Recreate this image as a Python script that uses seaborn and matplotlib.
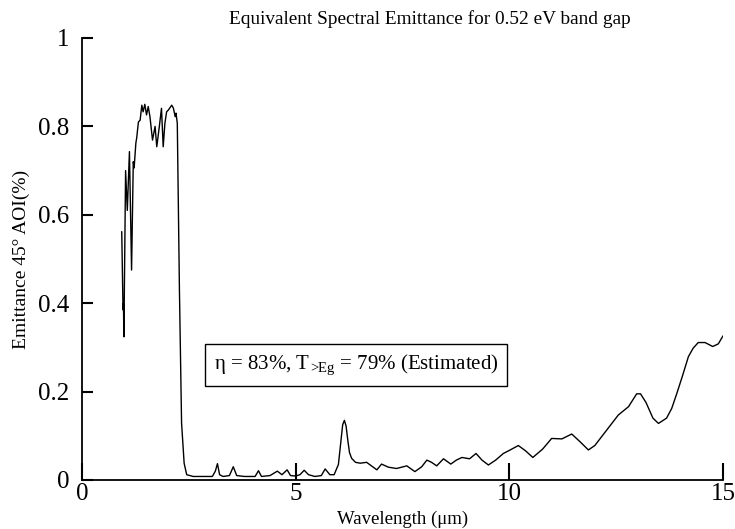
import matplotlib
matplotlib.use("Agg")
import matplotlib.pyplot as plt
import seaborn as sns
import pandas as pd

wavelength = [0.93, 0.95, 0.96, 0.97, 0.98, 1.02, 1.06, 1.11, 1.16, 1.20, 1.22, 1.26, 1.28,
              1.32, 1.36, 1.40, 1.43, 1.47, 1.51, 1.55, 1.59, 1.65, 1.71, 1.75, 1.81,
              1.86, 1.90, 1.94, 1.98, 2.02, 2.10, 2.14, 2.18, 2.20, 2.23, 2.26, 2.28,
              2.33, 2.39, 2.45, 2.6, 2.8, 3.05, 3.12, 3.17, 3.22, 3.3, 3.45, 3.54,
              3.62, 3.8, 4.05, 4.13, 4.2, 4.4, 4.57, 4.68, 4.80, 4.88, 5.0, 5.1, 5.2,
              5.3, 5.45, 5.6, 5.69, 5.8, 5.9, 6.0, 6.05, 6.1, 6.14, 6.18, 6.22, 6.26,
              6.31, 6.4, 6.51, 6.66, 6.8, 6.9, 7.01, 7.17, 7.36, 7.6, 7.79, 7.95, 8.07,
              8.18, 8.30, 8.46, 8.63, 8.76, 8.89, 9.07, 9.22, 9.36, 9.51, 9.68, 9.86,
              10.02, 10.21, 10.38, 10.55, 10.78, 10.99, 11.23, 11.46, 11.65, 11.85,
              12.0, 12.16, 12.35, 12.55, 12.79, 12.98, 13.07, 13.2, 13.36, 13.49,
              13.68, 13.8, 13.92, 14.05, 14.19, 14.3, 14.42, 14.58, 14.76, 14.89, 15.0]
emittance = [0.562, 0.44, 0.385, 0.40, 0.324, 0.70, 0.61, 0.743, 0.475, 0.72, 0.706, 0.762,
             0.774, 0.81, 0.814, 0.848, 0.833, 0.85, 0.826, 0.845, 0.822, 0.769, 0.80,
             0.754, 0.80, 0.841, 0.754, 0.807, 0.833, 0.837, 0.848, 0.841, 0.822, 0.83,
             0.807, 0.58, 0.43, 0.129, 0.038, 0.012, 0.008, 0.008, 0.008, 0.02, 0.037,
             0.012, 0.008, 0.01, 0.03, 0.01, 0.008, 0.008, 0.021, 0.008, 0.01, 0.02,
             0.012, 0.023, 0.01, 0.009, 0.012, 0.022, 0.012, 0.008, 0.01, 0.025, 0.012,
             0.012, 0.035, 0.08, 0.125, 0.135, 0.122, 0.09, 0.062, 0.049, 0.04, 0.038,
             0.04, 0.03, 0.023, 0.036, 0.029, 0.026, 0.032, 0.019, 0.03, 0.045, 0.04,
             0.032, 0.048, 0.036, 0.045, 0.051, 0.048, 0.06, 0.045, 0.034, 0.045, 0.06,
             0.068, 0.078, 0.066, 0.051, 0.07, 0.094, 0.093, 0.104, 0.087, 0.068, 0.078,
             0.098, 0.122, 0.147, 0.166, 0.195, 0.195, 0.175, 0.14, 0.128, 0.14, 0.162,
             0.196, 0.235, 0.279, 0.298, 0.311, 0.311, 0.302, 0.308, 0.326]

x_ticks = [0, 5, 10, 15]
y_ticks = [0, 0.2, 0.4, 0.6, 0.8, 1]
y_tick_labels = ["0", "0.2", "0.4", "0.6", "0.8", "1"]

title = "Equivalent Spectral Emittance for 0.52 eV band gap"
xlabel = "Wavelength (μm)"
ylabel = "Emittance 45° AOI(%)"
annotation = r"η = 83%, T$_{\mathrm{>}\!\!\mathrm{Eg}}$ = 79% (Estimated)"

sns.set_theme(style="ticks")
plt.rcParams["font.family"] = ["Liberation Serif", "DejaVu Serif"]
plt.rcParams["mathtext.fontset"] = "custom"
plt.rcParams["mathtext.rm"] = "Liberation Serif"
plt.rcParams["mathtext.it"] = "Liberation Serif:italic"

df = pd.DataFrame({"wavelength": wavelength, "emittance": emittance})

fig = plt.figure(figsize=(7.35, 5.29), dpi=100)
ax = fig.add_axes([82 / 735, 1 - 480 / 529, (723 - 82) / 735, (480 - 38) / 529])
sns.lineplot(data=df, x="wavelength", y="emittance", ax=ax, color="black",
             linewidth=1.0, sort=False, estimator=None)

ax.set_xlim(0, 15)
ax.set_ylim(0, 1)
ax.set_xticks(x_ticks)
ax.set_xticklabels([str(t) for t in x_ticks])
ax.set_yticks(y_ticks)
ax.set_yticklabels(y_tick_labels)
ax.tick_params(axis="x", direction="in", length=12, width=1.5, labelsize=18, pad=2, colors="black")
ax.tick_params(axis="y", direction="in", length=8, width=1.5, labelsize=18, pad=9, colors="black")
for s in ["top", "right"]:
    ax.spines[s].set_visible(False)
for s in ["left", "bottom"]:
    ax.spines[s].set_linewidth(1.3)
    ax.spines[s].set_color("black")

ax.set_xlabel(xlabel, fontsize=13.5, labelpad=4, color="black")
ax.set_ylabel(ylabel, fontsize=14, labelpad=6, color="black")
fig.text(0.585, 1 - 24 / 529, title, ha="center", va="baseline", fontsize=13.9, color="black")

ax.text(6.41, 0.26, annotation, ha="center", va="center", fontsize=15, color="black",
        bbox=dict(boxstyle="square,pad=0.42", facecolor="white", edgecolor="black", linewidth=1.0))

fig.savefig("out.png", dpi=100)
